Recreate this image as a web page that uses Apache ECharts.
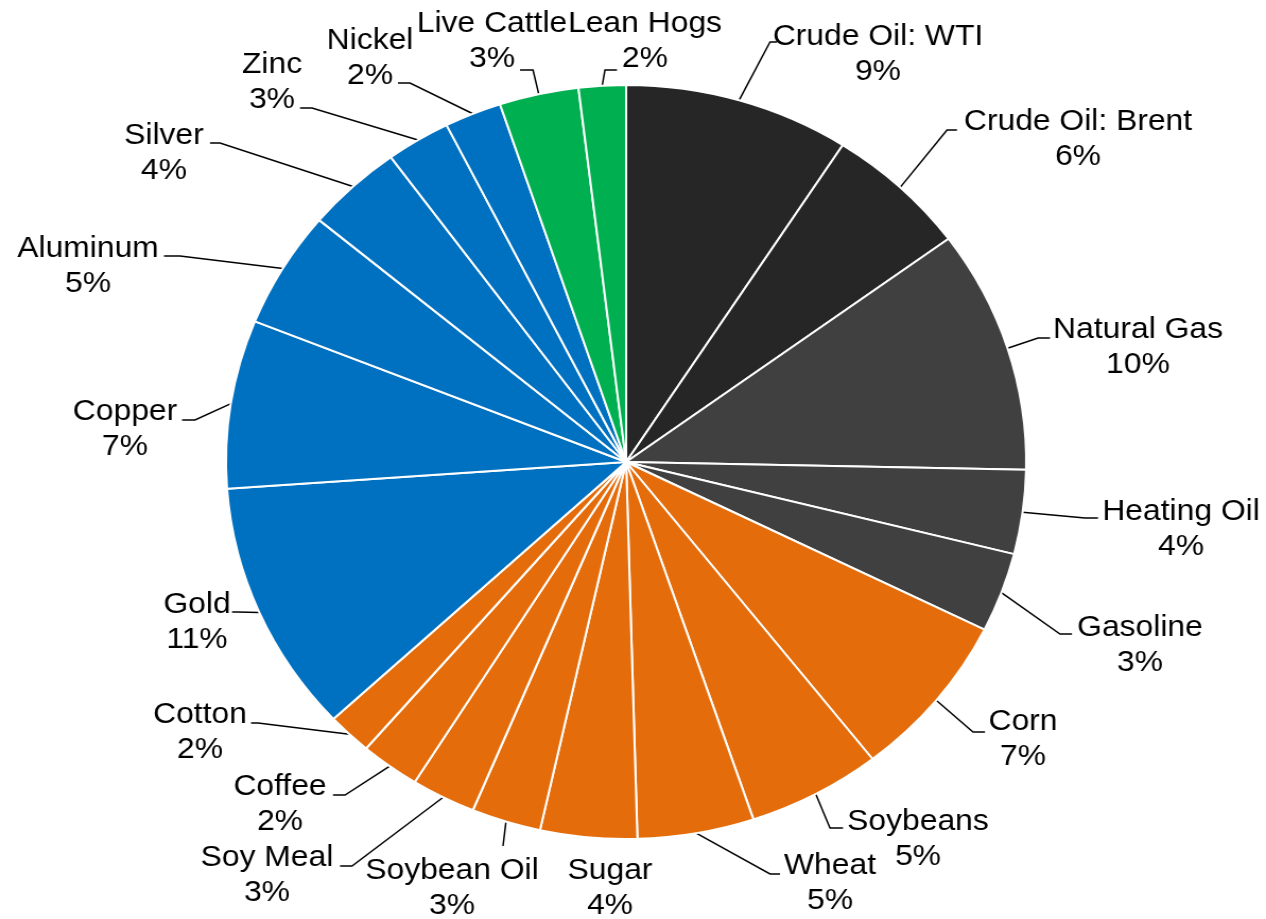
<!DOCTYPE html>
<html>
<head>
<meta charset="utf-8">
<script src="https://cdn.jsdelivr.net/npm/echarts@6/dist/echarts.min.js"></script>
<style>
  html, body { margin: 0; padding: 0; background: #fff; overflow: hidden; }
  /* source picture is stretched a bit horizontally, so stretch the canvas too */
  #chart { width: 1193px; height: 919px; transform: scaleX(1.0612); transform-origin: 0 0; }
</style>
</head>
<body>
<div id="chart"></div>
<script>
const SX = 1.0612;

const names = ['Crude Oil: WTI', 'Crude Oil: Brent', 'Natural Gas', 'Heating Oil', 'Gasoline',
  'Corn', 'Soybeans', 'Wheat', 'Sugar', 'Soybean Oil', 'Soy Meal', 'Coffee', 'Cotton',
  'Gold', 'Copper', 'Aluminum', 'Silver', 'Zinc', 'Nickel', 'Live Cattle', 'Lean Hogs'];
const weights = [9.1, 5.8, 10.4, 3.6, 3.4,
  7.1, 5.4, 4.7, 3.9, 2.8, 2.6, 2.4, 1.8,
  10.8, 7.2, 5.0, 3.9, 2.6, 2.3, 3.2, 1.9];
const colors = ['#262626', '#262626', '#404040', '#404040', '#404040',
  '#e46c0a', '#e46c0a', '#e46c0a', '#e46c0a', '#e46c0a', '#e46c0a', '#e46c0a', '#e46c0a',
  '#0070c0', '#0070c0', '#0070c0', '#0070c0', '#0070c0', '#0070c0', '#00b050', '#00b050'];

// label placement like the original (picture px): text centre x, y, leader bend x, y, leader end x
const labelSpots = [
  [878, 54, 770, 42, 777],
  [1078, 139, 947, 130, 957],
  [1138, 347, 1038, 338, 1050],
  [1181, 529, 1085, 518, 1098],
  [1140, 645, 1060, 634, 1072],
  [1023, 739, 973, 732, 985],
  [918, 839, 830, 828, 843],
  [830, 883, 770, 874, 780],
  [610, 888, null, null, null],
  [452, 888, 503, 846, 503],
  [267, 875, 352, 866, 340],
  [280, 804, 345, 795, 333],
  [200, 732, 258, 723, 251],
  [197, 622, 237, 612, 232],
  [125, 429, 195, 420, 182],
  [88, 266, 180, 256, 164],
  [164, 153, 220, 143, 210],
  [272, 82, 312, 108, 300],
  [370, 58, 410, 83, 398],
  [492, 41, 533, 70, 520],
  [645, 41, 605, 70, 617]
];

const chart = echarts.init(document.getElementById('chart'));

const option = {
  animation: false,
  series: [
    {
      type: 'pie',
      center: [590, 462],
      radius: 377,
      startAngle: 90,
      clockwise: true,
      avoidLabelOverlap: false,
      data: names.map((n, i) => ({
        name: n,
        value: weights[i],
        itemStyle: { color: colors[i] },
        labelLine: { show: labelSpots[i][2] != null }
      })),
      itemStyle: { borderColor: '#fff', borderWidth: 2 },
      label: {
        show: true,
        position: 'outside',
        formatter: p => '{a|' + p.name + '}\n{a|' + Math.round(p.percent) + '%}',
        rich: {
          a: { align: 'center', fontSize: 30, lineHeight: 35, color: '#000', fontFamily: 'Liberation Sans, Arial, sans-serif' }
        }
      },
      labelLine: {
        show: true,
        length: 20,
        length2: 10,
        lineStyle: { color: '#000', width: 1.5 }
      },
      labelLayout: function (params) {
        const s = labelSpots[params.dataIndex];
        const out = { x: s[0] / SX, y: s[1], align: 'center', verticalAlign: 'middle' };
        if (s[2] != null && params.labelLinePoints) {
          out.labelLinePoints = [
            params.labelLinePoints[0],
            [s[2] / SX, s[3]],
            [s[4] / SX, s[3]]
          ];
        }
        return out;
      },
      emphasis: { disabled: true }
    }
  ]
};

chart.setOption(option);
</script>
</body>
</html>
